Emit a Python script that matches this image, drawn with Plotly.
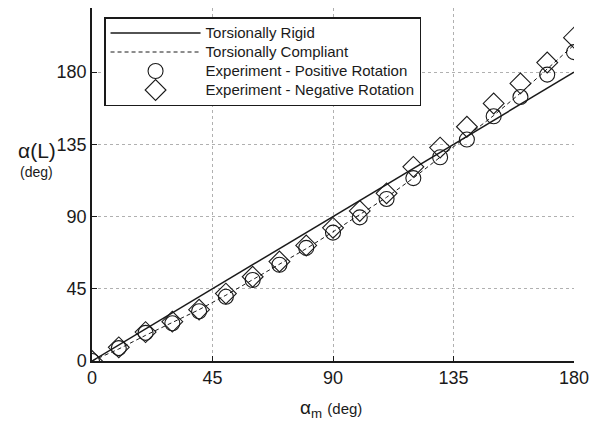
import plotly.graph_objects as go

alpha_m = [0, 10, 20, 30, 40, 50, 60, 70, 80, 90, 100, 110, 120, 130, 140, 150, 160, 170, 180]
rigid = [0, 10, 20, 30, 40, 50, 60, 70, 80, 90, 100, 110, 120, 130, 140, 150, 160, 170, 180]
compliant = [0, 7.5, 16, 24, 32, 41, 50.5, 60, 70, 80.5, 91, 102, 114, 127, 140, 153, 167, 182, 197]
exp_pos = [0, 8, 17.5, 23.5, 31, 40, 50.5, 60, 70.5, 80, 89.5, 101, 114, 127, 138, 152.5, 164.5, 178.5, 192.5]
exp_neg = [0, 8.5, 18, 24.5, 32, 42, 52.5, 62, 72, 83, 93.5, 104.5, 121, 133, 146, 160.5, 173, 186, 201.5]
tick_vals = [0, 45, 90, 135, 180]
series_names = ["Torsionally Rigid", "Torsionally Compliant",
                "Experiment - Positive Rotation", "Experiment - Negative Rotation"]

FONT = "Arial, Liberation Sans, Helvetica, sans-serif"
INK = "#1a1a1a"


def lg(name):
    return "<span style='font-size:15px'>" + name + "</span>"


fig = go.Figure()
fig.add_trace(go.Scatter(x=alpha_m, y=rigid, mode="lines", name=lg(series_names[0]),
                         line=dict(color=INK, width=1.5)))
fig.add_trace(go.Scatter(x=alpha_m, y=compliant, mode="lines", name=lg(series_names[1]),
                         line=dict(color=INK, width=1, dash="4px,3px")))
fig.add_trace(go.Scatter(x=alpha_m, y=exp_pos, mode="markers", name=lg(series_names[2]),
                         marker=dict(symbol="circle-open", size=15, color=INK, line=dict(width=1.1, color=INK))))
fig.add_trace(go.Scatter(x=alpha_m, y=exp_neg, mode="markers", name=lg(series_names[3]),
                         marker=dict(symbol="diamond-open", size=16, color=INK, line=dict(width=1.1, color=INK))))

axis_common = dict(
    showline=True, linecolor=INK, linewidth=1.5,
    showgrid=True, gridcolor="#b0b0b0", griddash="dot", gridwidth=1,
    zeroline=False, ticks="inside", ticklen=5, tickcolor=INK, tickwidth=1,
    tickfont=dict(family=FONT, size=18, color=INK),
    tickvals=tick_vals, fixedrange=True, automargin=False,
)

fig.update_xaxes(range=[0, 180], **axis_common)
fig.update_yaxes(range=[0, 220], **axis_common)

fig.add_annotation(xref="paper", yref="paper", x=0.427, y=-0.135, yanchor="middle", xanchor="left",
                   text="α<sub>m</sub> <span style='font-size:15px'>(deg)</span>", showarrow=False,
                   font=dict(family=FONT, size=19, color=INK))
fig.add_annotation(xref="paper", yref="paper", x=-0.157, y=0.596, yanchor="middle", xanchor="left",
                   text="α(L)", showarrow=False,
                   font=dict(family=FONT, size=21, color=INK))
fig.add_annotation(xref="paper", yref="paper", x=-0.153, y=0.536, yanchor="middle", xanchor="left",
                   text="(deg)", showarrow=False,
                   font=dict(family=FONT, size=14, color=INK))

fig.update_layout(
    width=592, height=426,
    margin=dict(l=84, r=26, t=0, b=73),
    paper_bgcolor="white", plot_bgcolor="white",
    font=dict(family=FONT, color=INK),
    legend=dict(x=0.025, y=0.9745, xanchor="left", yanchor="top",
                bordercolor=INK, borderwidth=1.5, bgcolor="white",
                font=dict(family=FONT, size=12, color=INK),
                itemwidth=90, tracegroupgap=0),
    showlegend=True,
)

fig.write_html("out.html")
